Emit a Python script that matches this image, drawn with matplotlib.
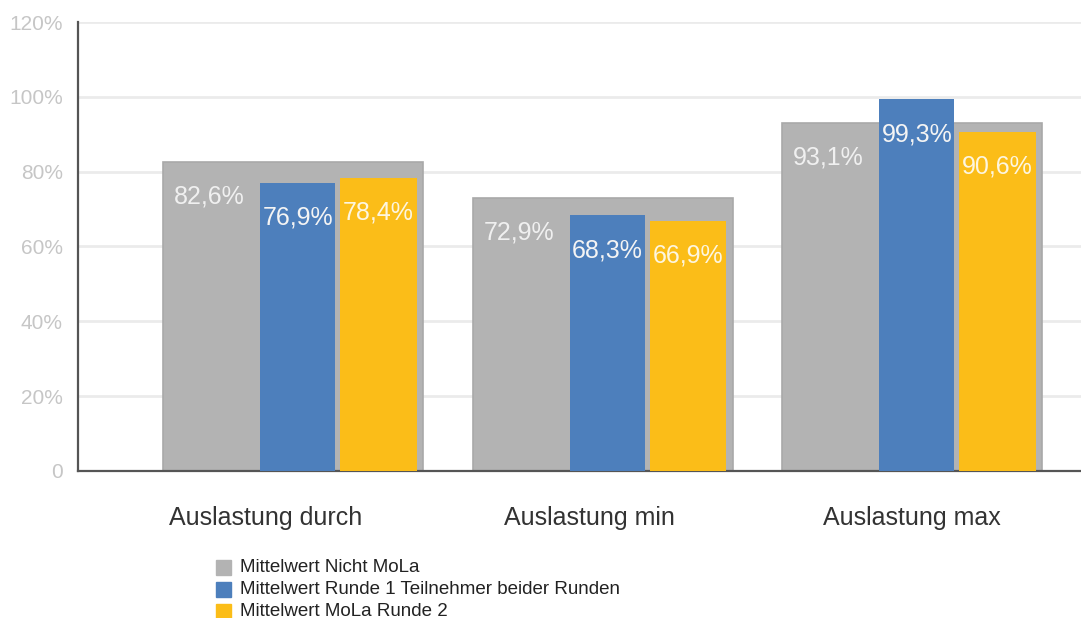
import matplotlib.pyplot as plt
import numpy as np
from matplotlib.patches import Rectangle

plt.rcParams['font.family'] = ['Liberation Sans', 'DejaVu Sans']

kategorien = ['Auslastung durch', 'Auslastung min', 'Auslastung max']
nicht_mola = [82.6, 72.9, 93.1]
runde1 = [76.9, 68.3, 99.3]
mola_runde2 = [78.4, 66.9, 90.6]
reihen = ['Mittelwert Nicht MoLa',
          'Mittelwert Runde 1 Teilnehmer beider Runden',
          'Mittelwert MoLa Runde 2']
farben = ['#b3b3b3', '#4d7fbc', '#fbbd18']
yticks = [0, 20, 40, 60, 80, 100, 120]
ytick_labels = ['0', '20%', '40%', '60%', '80%', '100%', '120%']

def fmt(v):
    return ('%.1f%%' % v).replace('.', ',')

fig = plt.figure(figsize=(10.81, 6.18), dpi=100)
ax = fig.add_axes([0.0722, 0.2379, 1 - 0.0722, 0.7265])

x = np.arange(len(kategorien))

# grauer Balken breit im Hintergrund
ax.bar(x, nicht_mola, width=0.84, color=farben[0], edgecolor='#a9a9a9', linewidth=1.2, zorder=2)
ax.bar(x + 0.015, runde1, width=0.242, color=farben[1], zorder=3)
ax.bar(x + 0.276, mola_runde2, width=0.248, color=farben[2], zorder=3)

def beschriften(xs, werte, farbe):
    for xi, v in zip(xs, werte):
        ax.annotate(fmt(v), (xi, v), xytext=(0, -25), textcoords='offset points',
                    ha='center', va='center', fontsize=18, color=farbe, zorder=5)

beschriften(x - 0.27, nicht_mola, '#f0f0f0')
beschriften(x + 0.015, runde1, '#f4f4f4')
beschriften(x + 0.276, mola_runde2, '#fdf6e0')

ax.set_xlim(-0.694, 2.545)
ax.set_ylim(0, 120)
ax.set_yticks(yticks)
ax.set_yticklabels(ytick_labels)
# Beschriftungen im Original leicht nach links versetzt
ax.set_xticks(x + np.array([-0.087, -0.042, 0.0]))
ax.set_xticklabels(kategorien)
ax.tick_params(axis='y', length=0, pad=11, labelsize=15, labelcolor='#c6c6c6')
ax.tick_params(axis='x', length=0, pad=25, labelsize=18, labelcolor='#333333')
ax.grid(axis='y', color='#ebebeb', linewidth=2, zorder=0)
ax.set_axisbelow(True)
for s in ['top', 'right']:
    ax.spines[s].set_visible(False)
for s in ['left', 'bottom']:
    ax.spines[s].set_color('#555555')
    ax.spines[s].set_linewidth(1.6)

# Legende unten
ly = [567, 589, 611]
for name, farbe, yy in zip(reihen, farben, ly):
    yf = 1 - yy / 618
    fig.add_artist(Rectangle((216 / 1081, yf - 7.5 / 618), 15 / 1081, 15 / 618,
                             transform=fig.transFigure, color=farbe))
    fig.text(240 / 1081, yf, name, fontsize=13.5, color='#222222', va='center', ha='left')

fig.savefig('out.png', dpi=100)
